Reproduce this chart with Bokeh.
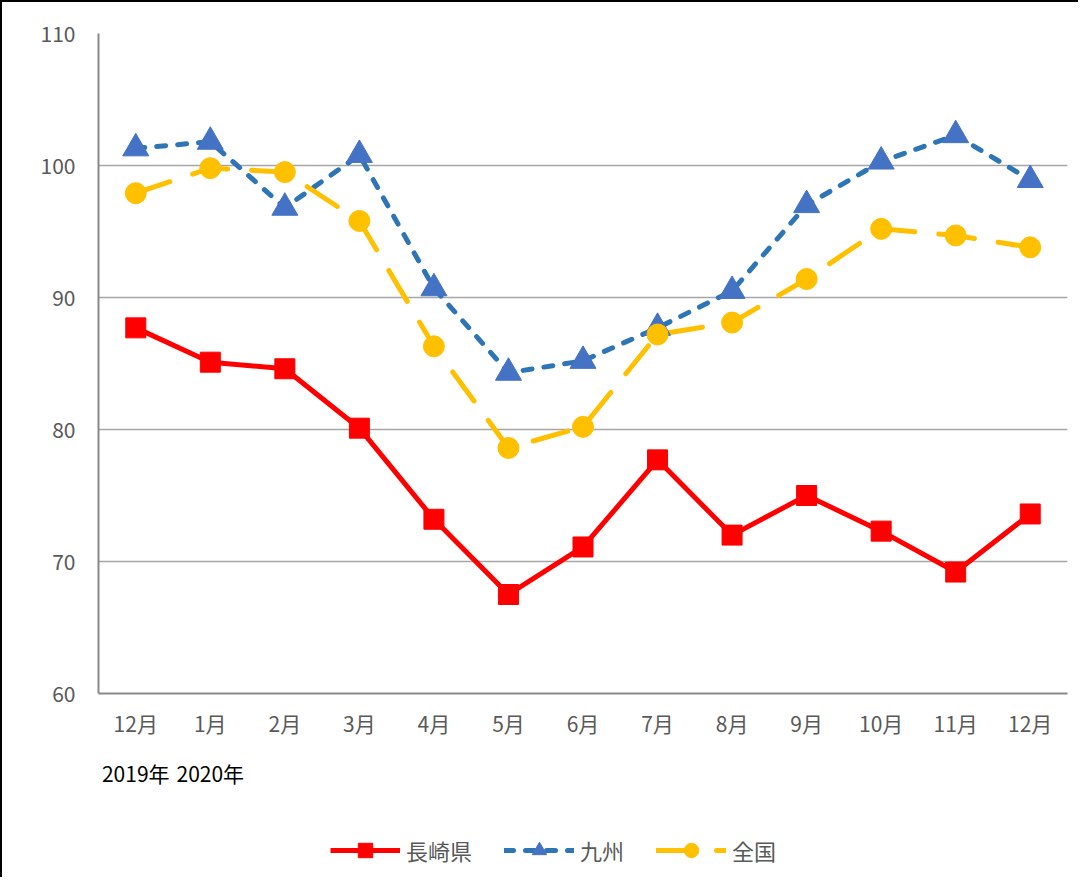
from bokeh.plotting import figure
from bokeh.layouts import column
from bokeh.models import LinearAxis, FixedTicker, Legend, LegendItem, Range1d
from bokeh.embed import file_html
from bokeh.resources import INLINE

# data
months = ["12月", "1月", "2月", "3月", "4月", "5月", "6月",
          "7月", "8月", "9月", "10月", "11月", "12月"]
nagasaki = [87.7, 85.1, 84.6, 80.1, 73.2, 67.5, 71.1, 77.7, 72.0, 75.0, 72.3, 69.2, 73.6]
kyushu = [101.3, 101.8, 96.8, 100.8, 90.7, 84.3, 85.2, 87.7, 90.5, 97.0, 100.3, 102.3, 98.9]
zenkoku = [97.9, 99.8, 99.5, 95.8, 86.3, 78.6, 80.2, 87.2, 88.1, 91.4, 95.2, 94.7, 93.8]
series_names = ["長崎県", "九州", "全国"]
year_labels = ["2019年", "2020年"]
y_ticks = [60, 70, 80, 90, 100, 110]

FONT = "Noto Sans CJK JP"
GRAY_TEXT = "#595959"
AXIS_GRAY = "#898989"

# one style per series: line colour, dash, marker, marker colour, marker size
STYLES = [
    dict(color="#FF0000", dash="solid", cap="butt", marker="square", mcolor="#FF0000", size=20),
    dict(color="#2E75B6", dash="9 12", cap="round", marker="triangle", mcolor="#4472C4", size=26),
    dict(color="#FFC000", dash="36 24", cap="round", marker="circle", mcolor="#FFC000", size=21),
]

x = list(range(len(months)))
series = [nagasaki, kyushu, zenkoku]

p = figure(width=1076, height=800, output_backend="svg", toolbar_location=None,
           x_range=Range1d(-0.5, len(months) - 0.5),
           y_range=Range1d(y_ticks[0], y_ticks[-1]),
           min_border_left=96, min_border_top=31, min_border_right=11,
           min_border_bottom=109)
p.outline_line_color = None
p.background_fill_color = "white"
p.border_fill_color = "white"

# x axis (months)
xa = p.xaxis[0]
xa.ticker = FixedTicker(ticks=x)
xa.major_label_overrides = {i: m for i, m in enumerate(months)}
xa.axis_line_color = AXIS_GRAY
xa.axis_line_width = 2
xa.major_tick_line_color = None
xa.minor_tick_line_color = None
xa.major_tick_out = 0
xa.major_tick_in = 0
xa.major_label_standoff = 14
xa.major_label_text_font = FONT
xa.major_label_text_font_size = "21px"
xa.major_label_text_color = GRAY_TEXT

# y axis
ya = p.yaxis[0]
ya.ticker = FixedTicker(ticks=y_ticks)
ya.axis_line_color = AXIS_GRAY
ya.axis_line_width = 2
ya.major_tick_line_color = None
ya.minor_tick_line_color = None
ya.major_tick_out = 0
ya.major_tick_in = 0
ya.major_label_standoff = 23
ya.major_label_text_font = FONT
ya.major_label_text_font_size = "21px"
ya.major_label_text_color = GRAY_TEXT

p.xgrid.visible = False
p.ygrid.grid_line_color = "#A6A6A6"
p.ygrid.grid_line_width = 1.5

# year labels under the first two months
year_axis = LinearAxis(ticker=FixedTicker(ticks=x[:len(year_labels)]),
                       major_label_overrides={i: t for i, t in enumerate(year_labels)})
year_axis.axis_line_color = None
year_axis.major_tick_line_color = None
year_axis.minor_tick_line_color = None
year_axis.major_tick_out = 0
year_axis.major_tick_in = 0
year_axis.major_label_standoff = 17
year_axis.major_label_text_font = FONT
year_axis.major_label_text_font_size = "21px"
year_axis.major_label_text_color = "black"
p.add_layout(year_axis, "below")

# series
for ys, st in zip(series, STYLES):
    p.line(x, ys, line_color=st["color"], line_width=5, line_dash=st["dash"], line_cap=st["cap"])
for ys, st in zip(series, STYLES):
    p.scatter(x, ys, marker=st["marker"], size=st["size"],
              fill_color=st["mcolor"], line_color=st["mcolor"])

# legend strip under the chart (a side-panel legend breaks the layout);
# its frame is aligned with the chart frame by the column layout
lf = figure(width=1076, height=75, output_backend="svg", toolbar_location=None,
            x_range=Range1d(-0.5, len(months) - 0.5), y_range=Range1d(0, 1),
            x_axis_location=None, y_axis_location=None, min_border=0)
lf.outline_line_color = None
lf.grid.visible = False
lf.border_fill_color = "white"
lf.background_fill_color = "white"

items = []
for name, ys, st in zip(series_names, series, STYLES):
    # same series, but outside this strip's y range, so only the legend shows
    lr = lf.line(x, ys, line_color=st["color"], line_width=5, line_dash=st["dash"], line_cap=st["cap"])
    sr = lf.scatter(x, ys, marker=st["marker"], size=st["size"],
                    fill_color=st["mcolor"], line_color=st["mcolor"])
    items.append(LegendItem(label=name, renderers=[lr, sr]))

legend = Legend(items=items, orientation="horizontal", location=(232, 9))
legend.glyph_width = 70
legend.glyph_height = 36
legend.spacing = 32
legend.label_standoff = 6
legend.label_text_font = FONT
legend.label_text_font_size = "22px"
legend.label_text_color = GRAY_TEXT
legend.border_line_color = None
legend.background_fill_alpha = 0
legend.margin = 0
legend.padding = 0
lf.add_layout(legend)

# chart frame: only the left and top edges fall inside the window
layout = column(p, lf, spacing=0,
                styles={"border-left": "2px solid black", "border-top": "2px solid black"})

open("out.html", "w").write(file_html(layout, INLINE))
